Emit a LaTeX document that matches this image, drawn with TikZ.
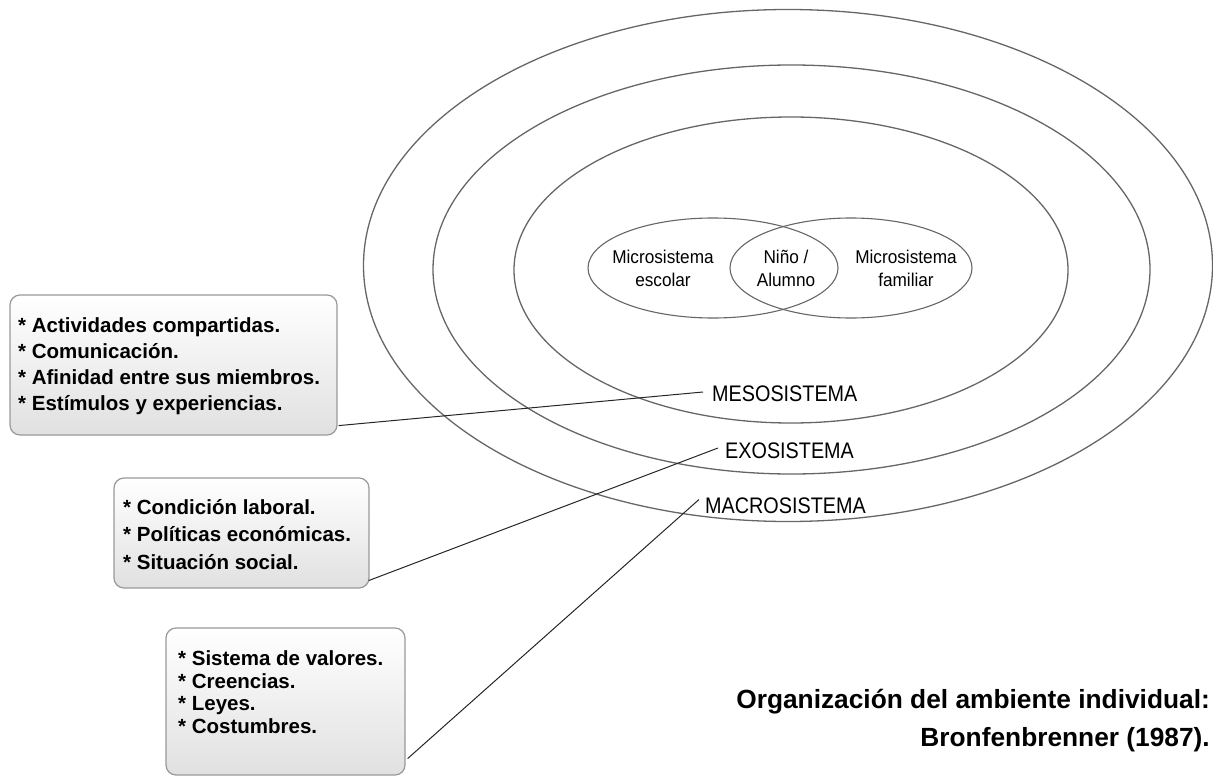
\documentclass[tikz,border=0pt]{standalone}
\usepackage{fontspec}
\usepackage{graphicx}
\setmainfont{Liberation Sans}
\usetikzlibrary{shapes.geometric,calc}
\newcommand{\sqz}[2]{\scalebox{#1}[1]{#2}}
\begin{document}
\begin{tikzpicture}[x=1pt,y=-1pt,
  ring/.style={draw=black!60, line width=1.3pt, ellipse, inner sep=0pt},
  infobox/.style={draw=black!40, line width=1.2pt, rounded corners=10pt, top color=white, bottom color=black!12, inner sep=0pt},
  boxtext/.style={align=left, inner sep=0pt, anchor=west, font=\bfseries\fontsize{20.5}{26}\selectfont},
  syslabel/.style={anchor=west, inner sep=0pt, font=\fontsize{22.5}{24}\selectfont},
  venn/.style={align=center, inner sep=0pt, font=\fontsize{18.5}{23}\selectfont},
  leader/.style={draw=black!85, line width=1pt}]
\useasboundingbox (0,0) rectangle (1213,776);

% rings
\node[ring, minimum width=849, minimum height=512] (macroring) at (788,265.5) {};
\node[ring, minimum width=717, minimum height=409] (exoring) at (791.5,269.5) {};
\node[ring, minimum width=554, minimum height=306] (mesoring) at (791,270) {};
\node[ring, line width=1.1pt, minimum width=250, minimum height=100] (escolarring) at (713,268) {};
\node[ring, line width=1.1pt, minimum width=242, minimum height=100] (familiarring) at (851,268) {};

% venn texts
\node[venn] (escolar) at (663,268.5) {\sqz{0.93}{Microsistema}\\\sqz{0.93}{escolar}};
\node[venn] (nino) at (786,268.5) {\sqz{0.93}{Niño /}\\\sqz{0.93}{Alumno}};
\node[venn] (familiar) at (906,268.5) {\sqz{0.93}{Microsistema}\\\sqz{0.93}{familiar}};

% system labels
\node[syslabel] (meso) at (712,394) {\sqz{0.88}{MESOSISTEMA}};
\node[syslabel] (exo) at (725,451) {\sqz{0.88}{EXOSISTEMA}};
\node[syslabel] (macro) at (705,505.5) {\sqz{0.88}{MACROSISTEMA}};

% boxes
\node[infobox, minimum width=327, minimum height=140] (box1) at (173.5,365) {};
\node[infobox, minimum width=255, minimum height=110] (box2) at (241.5,533) {};
\node[infobox, minimum width=239, minimum height=147] (box3) at (285.5,701.5) {};

\node[boxtext] (t1) at (18,366) {* Actividades compartidas.\\* Comunicación.\\* Afinidad entre sus miembros.\\* Estímulos y experiencias.};
\node[boxtext, font=\bfseries\fontsize{20.5}{27.5}\selectfont] (t2) at (123,534.5) {* Condición laboral.\\* Políticas económicas.\\* Situación social.};
\node[boxtext, font=\bfseries\fontsize{20.5}{22.5}\selectfont] (t3) at (178,692) {* Sistema de valores.\\* Creencias.\\* Leyes.\\* Costumbres.};

% leaders
\draw[leader] ([xshift=1pt,yshift=10pt]box1.south east) -- ([xshift=-9pt,yshift=2pt]meso.west);
\draw[leader] ([xshift=-1pt,yshift=8pt]box2.south east) -- ([xshift=-7pt,yshift=3pt]exo.west);
\draw[leader] ([xshift=2pt,yshift=17pt]box3.south east) -- ([xshift=-6pt,yshift=6pt]macro.west);

% caption
\node[anchor=east, align=right, inner sep=0pt, font=\bfseries\fontsize{26.3}{38}\selectfont] (caption) at (1210,721) {Organización del ambiente individual:\\Bronfenbrenner (1987).};
\end{tikzpicture}
\end{document}
